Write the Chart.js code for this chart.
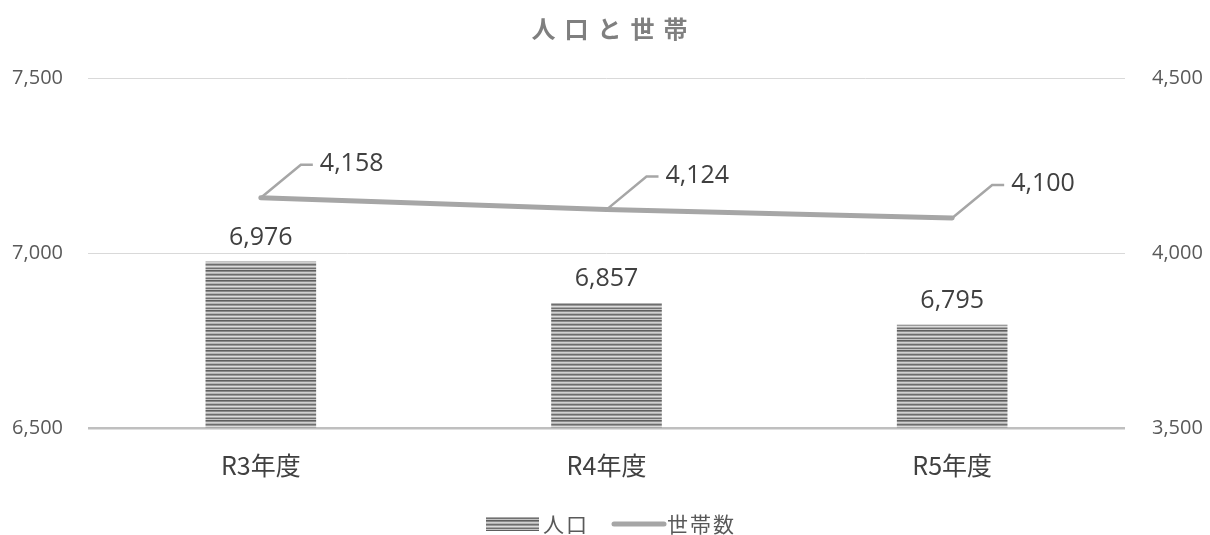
<!DOCTYPE html>
<html><head><meta charset="utf-8">
<script src="https://cdn.jsdelivr.net/npm/chart.js@4"></script>
<style>html,body{margin:0;padding:0;background:#fff}#wrap{width:1210px;height:535px}</style>
</head><body><div id="wrap"><canvas id="c" width="1210" height="535"></canvas></div>
<script>
const categories = ['R3年度', 'R4年度', 'R5年度'];
const population = [6976, 6857, 6795];
const households = [4158, 4124, 4100];
const leftTicks = [6500, 7000, 7500];
const rightTicks = [3500, 4000, 4500];
const titleText = '人口と世帯';
const seriesNames = ['人口', '世帯数'];

const FONT = "'Open Sans','Noto Sans CJK JP',sans-serif";
const JFONT = "'Noto Sans CJK JP','Open Sans',sans-serif";

function stripePattern() {
  const p = document.createElement('canvas');
  p.width = 4; p.height = 10;
  const g = p.getContext('2d');
  const rows = ['#5e5e5e','#8a8a8a','#d0d0d0','#b4b4b4','#6e6e6e','#9a9a9a','#dcdcdc','#a8a8a8','#707070','#c4c4c4'];
  rows.forEach((c,i)=>{g.fillStyle=c;g.fillRect(0,i,4,1);});
  return g.createPattern(p,'repeat');
}
const ctx = document.getElementById('c').getContext('2d');
const pattern = stripePattern();
const fmt = v => v.toLocaleString('en-US');

const overlay = {
  id: 'overlay',
  afterDatasetsDraw(chart) {
    const c = chart.ctx;
    c.save();
    const barMeta = chart.getDatasetMeta(1);
    c.font = '25px ' + FONT;
    c.fillStyle = '#404040';
    c.textAlign = 'center';
    c.textBaseline = 'middle';
    barMeta.data.forEach((el, i) => {
      c.fillText(fmt(population[i]), el.x, el.y - 24);
    });
    const lineMeta = chart.getDatasetMeta(0);
    lineMeta.data.forEach((el, i) => {
      const x = el.x, y = el.y;
      c.strokeStyle = '#a6a6a6';
      c.lineWidth = 2.5;
      c.beginPath();
      c.moveTo(x, y);
      c.lineTo(x + 40, y - 33);
      c.lineTo(x + 52, y - 33);
      c.stroke();
      c.fillStyle = '#404040';
      c.textAlign = 'left';
      c.fillText(fmt(households[i]), x + 59, y - 34);
    });
    c.restore();
  },
  afterDraw(chart) {
    const c = chart.ctx;
    c.save();
    c.font = 'bold 24px ' + JFONT;
    c.fillStyle = '#7f7f7f';
    c.textAlign = 'center';
    c.textBaseline = 'middle';
    try { c.letterSpacing = '9px'; } catch(e) {}
    c.fillText(titleText, 614, 29);
    try { c.letterSpacing = '0px'; } catch(e) {}
    const ly = 524;
    c.fillStyle = pattern;
    c.fillRect(486, ly - 7, 53, 14);
    c.font = '21px ' + JFONT;
    c.fillStyle = '#595959';
    c.textAlign = 'left';
    try { c.letterSpacing = '2px'; } catch(e) {}
    c.fillText(seriesNames[0], 543, ly);
    c.fillText(seriesNames[1], 667, ly);
    c.strokeStyle = '#a6a6a6';
    c.lineWidth = 5;
    c.lineCap = 'round';
    c.beginPath();
    c.moveTo(614, ly); c.lineTo(664, ly); c.stroke();
    c.restore();
  }
};

new Chart(ctx, {
  data: {
    labels: categories,
    datasets: [
      { type: 'line', label: seriesNames[1], data: households, yAxisID: 'y2', order: 0,
        borderColor: '#a6a6a6', borderWidth: 5, pointRadius: 0, tension: 0, borderCapStyle: 'round' },
      { type: 'bar', label: seriesNames[0], data: population, yAxisID: 'y', order: 1,
        backgroundColor: pattern, borderWidth: 0, barPercentage: 0.32, categoryPercentage: 1 }
    ]
  },
  options: {
    responsive: false,
    animation: false,
    layout: { padding: { top: 78, bottom: 0, left: 0, right: 0 } },
    plugins: { legend: { display: false }, title: { display: false }, tooltip: { enabled: false } },
    scales: {
      x: {
        grid: { display: false, drawTicks: false },
        border: { display: false },
        ticks: { color: '#404040', font: { size: 25, family: JFONT }, padding: 22 },
        afterFit(s) { s.height = 107; }
      },
      y: {
        position: 'left', min: 6500, max: 7500,
        afterBuildTicks(s) { s.ticks = leftTicks.map(v => ({ value: v })); },
        grid: { drawTicks: false, color: c => c.tick && c.tick.value === 6500 ? '#bfbfbf' : '#d9d9d9',
                lineWidth: c => c.tick && c.tick.value === 6500 ? 2.5 : 1 },
        border: { display: false },
        ticks: { color: '#595959', font: { size: 20, family: FONT }, padding: 25, callback: v => fmt(v) },
        afterFit(s) { s.width = 88; }
      },
      y2: {
        position: 'right', min: 3500, max: 4500,
        afterBuildTicks(s) { s.ticks = rightTicks.map(v => ({ value: v })); },
        grid: { display: false, drawTicks: false },
        border: { display: false },
        ticks: { color: '#595959', font: { size: 20, family: FONT }, padding: 27, callback: v => fmt(v) },
        afterFit(s) { s.width = 85; }
      }
    }
  },
  plugins: [overlay]
});
</script></body></html>
